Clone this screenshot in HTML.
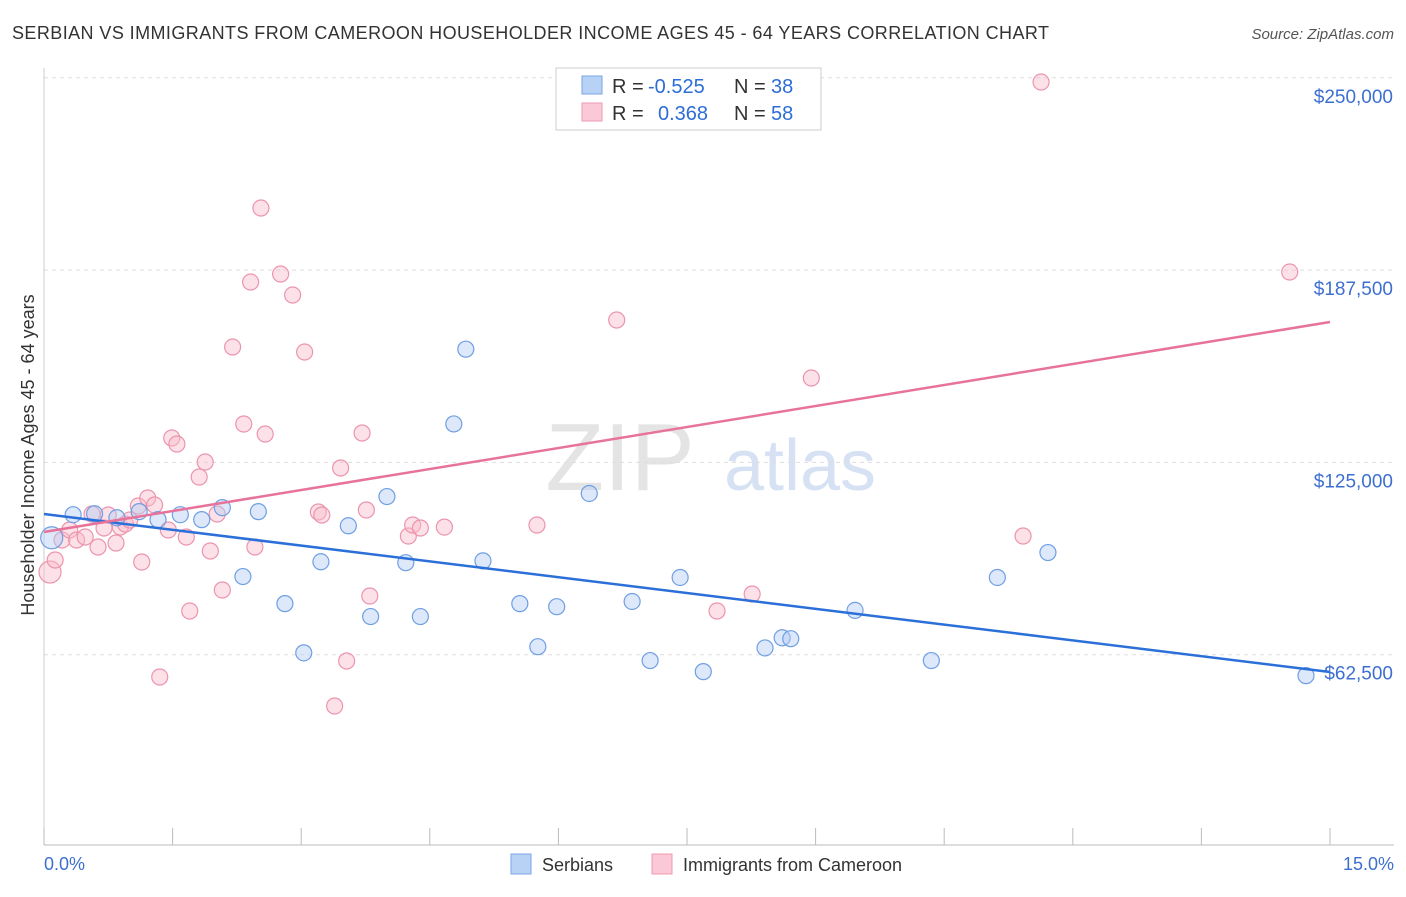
<!DOCTYPE html>
<html><head><meta charset="utf-8"><style>
body{margin:0;background:#fff;font-family:"Liberation Sans",sans-serif;}
svg text{font-family:"Liberation Sans",sans-serif;}
</style></head><body>
<svg id="chart" width="1406" height="892">
<text x="12" y="39" font-size="18" fill="#333" textLength="1037">SERBIAN VS IMMIGRANTS FROM CAMEROON HOUSEHOLDER INCOME AGES 45 - 64 YEARS CORRELATION CHART</text>
<text x="1394" y="39" font-size="15" fill="#555" font-style="italic" text-anchor="end">Source: ZipAtlas.com</text>
<text x="620" y="490" font-size="96" fill="#e4e4e4" font-family="Liberation Serif" text-anchor="middle">ZIP</text>
<text x="800" y="490" font-size="72" fill="#d6e2f3" text-anchor="middle">atlas</text>
<g id="grid"></g><g id="axes"></g><g id="pts"></g><g id="lines"></g>
<text transform="translate(34,455) rotate(-90)" font-size="18" fill="#333" text-anchor="middle">Householder Income Ages 45 - 64 years</text>
<text x="44" y="870" font-size="18" fill="#3d6fd0">0.0%</text>
<text x="1394" y="870" font-size="18" fill="#3d6fd0" text-anchor="end">15.0%</text>
<g>
<rect x="556" y="68" width="265" height="62" fill="#fff" stroke="#ccc"/>
<rect x="582" y="76" width="20" height="18" fill="#b8d2f5" stroke="#7aa5e6"/>
<rect x="582" y="103" width="20" height="18" fill="#fac8d6" stroke="#ee9ab3"/>
<text x="612" y="93" font-size="20" fill="#333">R =</text>
<text x="648" y="93" font-size="20" fill="#2d6dd6">-0.525</text>
<text x="734" y="93" font-size="20" fill="#333">N =</text>
<text x="771" y="93" font-size="20" fill="#2d6dd6">38</text>
<text x="612" y="120" font-size="20" fill="#333">R =</text>
<text x="658" y="120" font-size="20" fill="#2d6dd6">0.368</text>
<text x="734" y="120" font-size="20" fill="#333">N =</text>
<text x="771" y="120" font-size="20" fill="#2d6dd6">58</text>
</g>
<g>
<rect x="511" y="854" width="20" height="20" fill="#b8d2f5" stroke="#7aa5e6"/>
<text x="542" y="871" font-size="18" fill="#333">Serbians</text>
<rect x="652" y="854" width="20" height="20" fill="#fac8d6" stroke="#ee9ab3"/>
<text x="683" y="871" font-size="18" fill="#333">Immigrants from Cameroon</text>
</g>
</svg>
<script>
const yTicks=[62500,125000,187500,250000];
const yTickLabels=["$62,500","$125,000","$187,500","$250,000"];
const blueX=[0.09,0.34,0.59,0.85,1.11,1.33,1.59,1.84,2.08,2.32,2.50,2.81,3.03,3.23,3.55,3.81,4.00,4.22,4.39,4.78,4.92,5.12,5.55,5.76,5.98,6.36,6.86,7.07,7.42,7.69,8.41,8.61,8.71,9.46,10.35,11.12,11.71,14.72];
const blueY=[100500,108000,108300,107000,109000,106400,108000,106400,110300,87900,109000,79100,63100,92700,104400,74900,113900,92400,74900,137500,161800,93000,79100,65100,78100,114900,79800,60600,87600,57000,64700,68000,67700,76900,60600,87600,95700,55700];
const pinkX=[0.07,0.13,0.21,0.30,0.38,0.48,0.56,0.63,0.70,0.75,0.84,0.89,0.95,1.00,1.10,1.14,1.21,1.29,1.35,1.45,1.49,1.55,1.66,1.70,1.81,1.88,1.94,2.02,2.08,2.20,2.33,2.41,2.46,2.53,2.58,2.76,2.90,3.04,3.20,3.24,3.39,3.46,3.53,3.71,3.76,3.80,4.25,4.30,4.39,4.67,5.75,6.68,7.85,8.26,8.95,11.42,11.63,14.53];
const pinkY=[89375,93275,99775,103025,99775,100750,108225,97500,103675,107900,98800,104000,104975,106275,110825,92625,113425,111150,55250,103025,132925,130975,100750,76700,120250,125125,96200,108225,83525,162500,137475,183625,97500,207675,134225,186225,179400,160875,108875,107900,45825,123175,60450,134550,109525,81575,101075,104650,103675,103975,104650,171275,76700,82225,152425,101075,248625,186875];
const blueTrend=[108225,56875];
const pinkTrend=[102375,170625];
const X=v=>44+v/15*1286, Y=v=>847-v/62500*192.3;
const ns="http://www.w3.org/2000/svg";
function mk(t,a,p){const e=document.createElementNS(ns,t);for(const k in a)e.setAttribute(k,a[k]);document.getElementById(p).appendChild(e);return e;}
yTicks.forEach((t,i)=>{
 const l=mk('line',{x1:44,x2:1394,y1:Y(t),y2:Y(t),stroke:'#ddd','stroke-dasharray':'4,4'},'grid');
 
 
 const tx=mk('text',{x:1393,y:Y(t)+25,'font-size':19,fill:'#3d6fd0','text-anchor':'end'},'grid');
 tx.textContent=yTickLabels[i];
 
 
});
const ax=mk('line',{x1:44,x2:1394,y1:845,y2:845,stroke:'#bbb'},'axes');


const ay=mk('line',{x1:44,x2:44,y1:68,y2:845,stroke:'#ccc'},'axes');


for(let i=0;i<=10;i++){const t=mk('line',{x1:X(i*1.5),x2:X(i*1.5),y1:828,y2:845,stroke:'#bbb'},'axes');
 
 }
function pts(xs,ys,fill,stroke,name){xs.forEach((x,i)=>{
 const c=mk('circle',{cx:X(x),cy:Y(ys[i]),r:i===0?11:8,fill:fill,'fill-opacity':0.45,stroke:stroke,'stroke-width':1.2},'pts');
 
 });}
pts(pinkX,pinkY,'#f8bccd','#ec94ae','point-cameroon');
pts(blueX,blueY,'#b3cdf3','#6f9fe3','point-serbian');
[[blueTrend,'#2b6fd8','trend-serbian'],[pinkTrend,'#e8739a','trend-cameroon']].forEach(([tr,c,n])=>{
 const l=mk('line',{x1:X(0),y1:Y(tr[0]),x2:X(15),y2:Y(tr[1]),stroke:c,'stroke-width':2.5},'lines');
 
 
});
</script>
</body></html>
